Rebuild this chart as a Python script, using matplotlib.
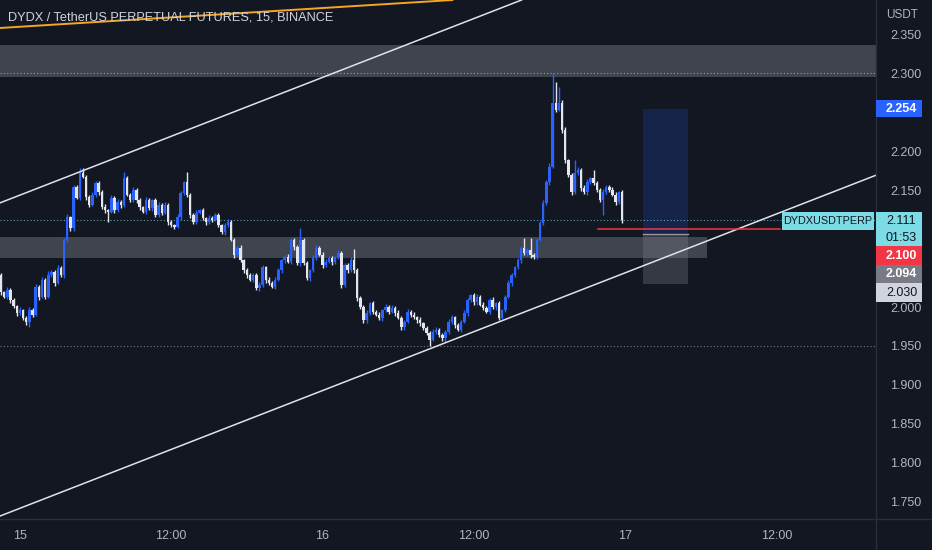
import numpy as np
import pandas as pd
import matplotlib
matplotlib.use('Agg')
from matplotlib import pyplot as plt
from matplotlib.patches import Rectangle
from matplotlib.lines import Line2D
from matplotlib.transforms import IdentityTransform

# 15m candles, DYDX/USDT perp - closes
closes = [
    2.019, 2.013, 2.022, 2.009, 2.001, 1.992, 1.996, 1.986, 1.981, 1.996,
    1.990, 2.026, 2.013, 2.035, 2.013, 2.041, 2.045, 2.031, 2.050, 2.041,
    2.086, 2.115, 2.101, 2.154, 2.140, 2.172, 2.167, 2.141, 2.131, 2.144,
    2.159, 2.147, 2.128, 2.124, 2.122, 2.140, 2.124, 2.135, 2.131, 2.165,
    2.144, 2.137, 2.150, 2.137, 2.128, 2.122, 2.137, 2.127, 2.137, 2.118,
    2.131, 2.121, 2.131, 2.109, 2.105, 2.103, 2.115, 2.146, 2.160, 2.144,
    2.118, 2.109, 2.121, 2.124, 2.114, 2.109, 2.114, 2.112, 2.118, 2.105,
    2.096, 2.105, 2.109, 2.086, 2.067, 2.076, 2.060, 2.047, 2.041, 2.035,
    2.041, 2.024, 2.028, 2.051, 2.035, 2.031, 2.026, 2.035, 2.047, 2.060,
    2.064, 2.058, 2.086, 2.077, 2.056, 2.086, 2.056, 2.037, 2.047, 2.063,
    2.076, 2.067, 2.054, 2.058, 2.063, 2.058, 2.064, 2.069, 2.028, 2.054,
    2.047, 2.060, 2.047, 2.012, 2.000, 1.983, 1.992, 2.005, 1.994, 1.990,
    1.986, 1.996, 2.000, 1.994, 1.999, 1.992, 1.986, 1.974, 1.981, 1.994,
    1.990, 1.987, 1.983, 1.979, 1.973, 1.967, 1.958, 1.968, 1.971, 1.964,
    1.960, 1.968, 1.981, 1.987, 1.977, 1.971, 1.981, 1.992, 2.009, 2.015,
    2.006, 2.013, 2.003, 1.999, 1.994, 2.009, 2.000, 2.005, 1.986, 1.996,
    2.013, 2.031, 2.041, 2.051, 2.060, 2.076, 2.069, 2.073, 2.067, 2.064,
    2.086, 2.108, 2.133, 2.160, 2.180, 2.262, 2.253, 2.262, 2.227, 2.188,
    2.169, 2.147, 2.172, 2.176, 2.153, 2.147, 2.160, 2.165, 2.159, 2.150,
    2.137, 2.147, 2.154, 2.150, 2.144, 2.135, 2.147, 2.111,
]
first_open = 2.041

# wick lengths above / below the body, in 0.001 USDT
wick_up = [
    3, 2, 4, 2, 3, 2, 4, 2, 3, 4,
    3, 4, 2, 3, 2, 5, 3, 2, 4, 3,
    3, 4, 2, 3, 3, 6, 6, 2, 3, 4,
    3, 2, 3, 4, 2, 4, 2, 3, 2, 8,
    3, 2, 4, 2, 3, 2, 4, 3, 2, 3,
    4, 2, 3, 2, 3, 2, 4, 3, 2, 13,
    2, 3, 4, 2, 3, 2, 4, 3, 2, 3,
    2, 3, 4, 2, 3, 2, 3, 2, 3, 2,
    3, 2, 4, 3, 2, 3, 2, 4, 3, 2,
    3, 4, 2, 3, 3, 15, 2, 3, 2, 4,
    3, 2, 4, 3, 2, 3, 2, 4, 3, 3,
    2, 4, 15, 3, 2, 3, 4, 2, 3, 2,
    3, 2, 4, 2, 3, 2, 4, 3, 2, 3,
    2, 3, 2, 4, 2, 3, 2, 4, 3, 2,
    3, 2, 4, 3, 2, 3, 2, 4, 3, 2,
    3, 4, 2, 3, 2, 3, 4, 2, 3, 2,
    3, 4, 3, 2, 3, 2, 13, 3, 15, 2,
    3, 2, 4, 3, 4, 38, 27, 20, 3, 4,
    2, 3, 16, 4, 2, 3, 4, 2, 11, 3,
    2, 4, 3, 2, 4, 3, 2, 3,
]
wick_dn = [
    3, 2, 3, 4, 2, 3, 2, 3, 4, 6,
    3, 2, 4, 2, 3, 2, 3, 4, 2, 3,
    4, 3, 3, 4, 2, 3, 2, 4, 3, 2,
    3, 4, 2, 3, 13, 2, 3, 2, 4, 3,
    2, 3, 2, 4, 3, 2, 3, 2, 4, 3,
    2, 3, 2, 4, 3, 3, 2, 3, 2, 3,
    4, 2, 3, 2, 3, 4, 2, 3, 2, 3,
    2, 4, 3, 2, 4, 3, 2, 3, 4, 2,
    3, 2, 3, 2, 4, 3, 2, 3, 2, 4,
    3, 2, 3, 4, 2, 3, 2, 3, 4, 2,
    3, 2, 4, 3, 2, 4, 3, 2, 3, 2,
    3, 2, 3, 4, 2, 3, 4, 2, 3, 2,
    3, 4, 2, 3, 2, 3, 2, 4, 3, 2,
    3, 2, 4, 3, 2, 3, 8, 2, 3, 2,
    3, 5, 2, 3, 4, 2, 3, 2, 3, 2,
    4, 3, 2, 3, 2, 3, 2, 4, 3, 2,
    3, 2, 4, 3, 2, 3, 2, 3, 4, 2,
    3, 2, 3, 2, 3, 2, 3, 2, 4, 3,
    2, 3, 2, 3, 4, 2, 3, 2, 3, 2,
    3, 19, 2, 3, 2, 4, 3, 3,
]

tick_times = ['2022-08-15 00:00', '2022-08-15 12:00', '2022-08-16 00:00',
              '2022-08-16 12:00', '2022-08-17 00:00', '2022-08-17 12:00']
tick_labels = ['15', '12:00', '16', '12:00', '17', '12:00']
# price scale labels left visible (2.050 / 2.100 / 2.250 sit under the tags)
yticks = [1.75, 1.80, 1.85, 1.90, 1.95, 2.00, 2.15, 2.20, 2.30, 2.35]

# drawings on the chart
upper_zone = (2.295, 2.336)
lower_zone = (2.063, 2.090)
lower_zone_end = 224           # bars
level_hi = 2.300
level_lo = 1.950
channel_low = [(0, 1.7325), (270, 2.157)]
channel_high = [(0, 2.134), (160, 2.3855)]
orange_line = [(0, 2.3578), (100, 2.3828)]
pos_entry, pos_target, pos_stop = 2.094, 2.254, 2.030
pos_bars = (203.7, 218.0)
alert_price = 2.100
alert_bars = (189.4, 247.1)
countdown = '01:53'
symbol = 'DYDXUSDTPERP'

BG = '#131722'
UP = '#2962FF'
DOWN = '#E3E6EC'
TXT = '#B2B5BE'
SEP = '#2A2E39'

plt.rcParams['font.family'] = ['Liberation Sans', 'DejaVu Sans']

opens = np.array([first_open] + closes[:-1])
closes = np.array(closes)
top = np.maximum(opens, closes)
bot = np.minimum(opens, closes)
highs = top + np.array(wick_up) / 1000
lows = bot - np.array(wick_dn) / 1000
x = np.arange(len(closes))
times = pd.date_range('2022-08-14 22:30', periods=len(closes), freq='15min')
up = closes >= opens
colors = np.where(up, UP, DOWN)

W, H = 932, 550
fig = plt.figure(figsize=(W / 100, H / 100), dpi=100, facecolor=BG)
ax = fig.add_axes([0, 31 / H, 876 / W, 519 / H], facecolor=BG)
ax.set_xlim(-0.32, 277.6)
ax.set_ylim(1.7282, 2.3936)

# zones
ax.axhspan(*upper_zone, color='#787B86', alpha=0.45, lw=0, zorder=1)
ax.fill_between([-1, lower_zone_end], lower_zone[0], lower_zone[1],
                color='#787B86', alpha=0.45, lw=0, zorder=1)

# dotted levels
ax.axhline(level_hi, color='#9598A1', lw=0.8, ls=(0, (1, 2)), zorder=2)
ax.axhline(level_lo, color='#787B86', lw=0.8, ls=(0, (1, 2)), zorder=2)
ax.axhline(closes[-1], color='#7BDCE5', lw=0.8, ls=(0, (1, 2)), alpha=0.7, zorder=2)

# long position tool
ax.add_patch(Rectangle((pos_bars[0], pos_entry), pos_bars[1] - pos_bars[0],
                       pos_target - pos_entry, color=UP, alpha=0.18, lw=0, zorder=1))
ax.add_patch(Rectangle((pos_bars[0], pos_stop), pos_bars[1] - pos_bars[0],
                       pos_entry - pos_stop, color='#787B86', alpha=0.35, lw=0, zorder=1))
ax.plot(pos_bars, [pos_entry, pos_entry], color='#9598A1', lw=1, zorder=2)

# trend lines
ax.axline(*channel_low, color='#E0E3EB', lw=1.1, zorder=4)
ax.axline(*channel_high, color='#E0E3EB', lw=1.1, zorder=4)
ax.axline(*orange_line, color='#F5A623', lw=1.4, zorder=4)

# candles
ax.vlines(x, lows, highs, colors=colors, lw=1.0, zorder=3)
ax.bar(x, np.maximum(top - bot, 0.0012), bottom=bot, width=0.78,
       color=colors, lw=0, zorder=3)

# red alert line
ax.plot(alert_bars, [alert_price, alert_price], color='#F23645', lw=1.1, zorder=5)

# axes / ticks
tick_pos = (pd.to_datetime(tick_times) - times[0]) / pd.Timedelta('15min')
ax.set_xticks(tick_pos)
ax.set_xticklabels(tick_labels)
ax.yaxis.tick_right()
ax.set_yticks(yticks)
ax.set_yticklabels([f'{v:.3f}' for v in yticks])
ax.tick_params(axis='both', length=0, colors=TXT, labelsize=9)
ax.tick_params(axis='x', pad=8)
ax.tick_params(axis='y', pad=10)
for s in ax.spines.values():
    s.set_visible(False)
fig.add_artist(Line2D([876 / W, 876 / W], [0, 1], color=SEP, lw=1))
fig.add_artist(Line2D([0, 1], [31 / H, 31 / H], color=SEP, lw=1))

fig.text(8 / W, 1 - 18 / H, 'DYDX / TetherUS PERPETUAL FUTURES, 15, BINANCE',
         color='#D1D4DC', fontsize=9.2, va='center', ha='left')
fig.text(886 / W, 1 - 15 / H, 'USDT', color=TXT, fontsize=8.5, va='center', ha='left')

# price tags on the right scale (display pixels)
ident = IdentityTransform()
fig.canvas.draw()


def py(price):
    return ax.transData.transform((0, price))[1]


def tag(y_top, h, face, lines, tcolor, bold=False, x0=876, w=46):
    fig.add_artist(Rectangle((x0, y_top - h), w, h, facecolor=face, lw=0,
                             transform=ident, zorder=10))
    n = len(lines)
    for k, s in enumerate(lines):
        yc = y_top - h * (k + 0.5) / n
        fig.text(x0 + 10, yc, s, transform=ident, color=tcolor, fontsize=9,
                 va='center', ha='left', zorder=11,
                 fontweight='bold' if bold else 'normal')


tag(py(pos_target) + 8.5, 17, UP, [f'{pos_target:.3f}'], 'white', bold=True)
y0 = py(closes[-1]) + 8
tag(y0, 34, '#7BDCE5', [f'{closes[-1]:.3f}', countdown], '#131722')
tag(y0 - 34, 19, '#F23645', [f'{alert_price:.3f}'], 'white', bold=True)
tag(y0 - 53, 18, '#787B86', [f'{pos_entry:.3f}'], 'white', bold=True)
tag(y0 - 71, 19, '#D1D4DC', [f'{pos_stop:.3f}'], '#131722')

fig.add_artist(Rectangle((782, y0 - 18), 92, 18, facecolor='#7BDCE5', lw=0,
                         transform=ident, zorder=10))
fig.text(828, y0 - 9, symbol, transform=ident, color='#131722', fontsize=7.8,
         va='center', ha='center', zorder=11)

fig.savefig('out.png', dpi=100, facecolor=BG)
